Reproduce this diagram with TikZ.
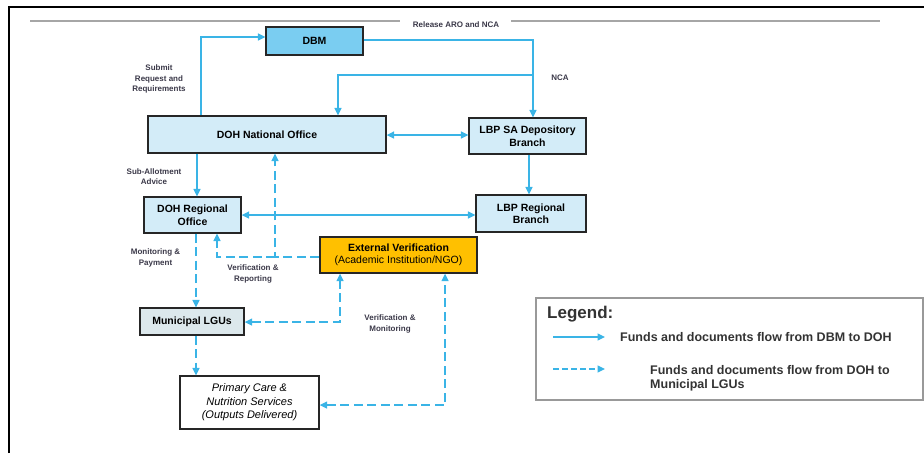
\documentclass[tikz,border=0pt]{standalone}
\usepackage{fontspec}
\setmainfont{Liberation Sans}
\usetikzlibrary{arrows.meta}
\definecolor{flowblue}{HTML}{3AB4E6}
\definecolor{dbmfill}{HTML}{7ACDF1}
\definecolor{lightfill}{HTML}{D3ECF8}
\definecolor{lgufill}{HTML}{DCE8EC}
\definecolor{extfill}{HTML}{FFC000}
\definecolor{labelgray}{HTML}{3A3848}
\definecolor{rulegray}{HTML}{A6A6A6}

\begin{document}
\begin{tikzpicture}[x=1pt, y=-1pt,
    box/.style={rectangle, draw=black!85, line width=1.3pt, fill=lightfill, inner sep=0pt, align=center, font=\fontsize{10.5}{12.5}\selectfont\bfseries},
    lbl/.style={font=\fontsize{8}{10.5}\selectfont\bfseries, text=labelgray, align=center, inner sep=0pt},
    tip/.style={Triangle[length=7.5pt,width=7pt]},
    flow/.style={-{Triangle[length=7.5pt,width=7pt]}, line width=1.4pt, flowblue},
    both/.style={{Triangle[length=7.5pt,width=7pt]}-{Triangle[length=7.5pt,width=7pt]}},
    dflow/.style={flow, dash pattern=on 9pt off 4.5pt},
    legtext/.style={font=\fontsize{12.5}{14}\selectfont\bfseries, text=black!80, align=left, anchor=west, inner sep=0pt}
  ]
  \useasboundingbox (0,0) rectangle (924,453);

  % Frame and top rule
  \draw[line width=1.5pt] (9,453) -- (9,7) -- (924,7);
  \draw[rulegray, line width=2pt] (30,21) -- (400,21);
  \draw[rulegray, line width=2pt] (511,21) -- (880,21);
  \node[lbl] (release) at (456,25) {Release ARO and NCA};

  % Offices
  \node[box, fill=dbmfill, minimum width=97pt, minimum height=28pt] (dbm) at (314.5,41) {DBM};
  \node[box, minimum width=238pt, minimum height=37pt] (natl) at (267,134.5) {DOH National Office};
  \node[box, minimum width=117pt, minimum height=36pt] (lbpsa) at (527.5,136) {LBP SA Depository\\Branch};
  \node[box, minimum width=110pt, minimum height=37pt] (lbpreg) at (531,213.5) {LBP Regional\\Branch};
  \node[box, minimum width=97pt, minimum height=36pt] (doreg) at (192.5,215) {DOH Regional\\Office};
  \node[box, fill=extfill, minimum width=157pt, minimum height=36pt] (ext) at (398.5,255) {External Verification\\\mdseries(Academic Institution/NGO)};
  \node[box, fill=lgufill, minimum width=104pt, minimum height=27pt] (lgu) at (192,321.5) {Municipal LGUs};
  \node[box, fill=white, minimum width=139pt, minimum height=53pt, font=\fontsize{11}{13.5}\selectfont\itshape] (pcare) at (249.5,402.5) {Primary Care \&\\Nutrition Services\\(Outputs Delivered)};

  % Labels
  \node[lbl] (nca) at (560,78) {NCA};
  \node[lbl] (submit) at (159,79) {Submit\\Request and\\Requirements};
  \node[lbl] (saa) at (154,176.5) {Sub-Allotment\\Advice};
  \node[lbl] (monpay) at (155.5,258) {Monitoring \&\\Payment};
  \node[lbl] (verrep) at (253,274) {Verification \&\\Reporting};
  \node[lbl] (vermon) at (390,324) {Verification \&\\Monitoring};

  % Solid flows
  \coordinate (split) at (533,75);
  \draw[flow] ([xshift=-66pt]natl.north) |- ([yshift=4pt]dbm.west);
  \draw[flow] ([yshift=1pt]dbm.east) -| ([xshift=5.5pt]lbpsa.north);
  \draw[flow] (split) -| ([xshift=71pt]natl.north);
  \draw[flow, both] ([yshift=-0.5pt]natl.east) -- ([yshift=-0.5pt]natl.east -| lbpsa.west);
  \draw[flow] ([xshift=1.5pt]lbpsa.south) -- ([xshift=-2pt]lbpreg.north);
  \draw[flow, both] (doreg.east) -- (doreg.east -| lbpreg.west);
  \draw[flow] ([xshift=4.5pt]doreg.north |- natl.south) -- ([xshift=4.5pt]doreg.north);

  % Dashed flows
  \coordinate (vrep) at (275,257);
  \draw[dflow] ([yshift=-2pt]ext.west) -| ([xshift=8pt]natl.south);
  \draw[dflow] (vrep) -| ([xshift=24.5pt]doreg.south);
  \draw[dflow] ([xshift=3.5pt]doreg.south) -- ([xshift=4pt]lgu.north);
  \draw[dflow, both] ([yshift=-0.5pt]lgu.east) -| ([xshift=-58.5pt]ext.south);
  \draw[dflow] ([xshift=4pt]lgu.south) -- ([xshift=-53.5pt]pcare.north);
  \draw[dflow, both] ([yshift=-2.5pt]pcare.east) -| ([xshift=46.5pt]ext.south);

  % Legend
  \node[draw=black!40, line width=1.3pt, minimum width=387pt, minimum height=102pt, inner sep=0pt] (legend) at (729.5,349) {};
  \node[legtext, font=\fontsize{17}{19}\selectfont\bfseries] (legtitle) at (547,314) {Legend:};
  \coordinate (ls1) at (553,337);
  \coordinate (le1) at (605,337);
  \coordinate (ls2) at (553,369);
  \coordinate (le2) at (605,369);
  \draw[flow, line width=1.2pt] (ls1) -- (le1);
  \draw[flow, line width=1.2pt, dash pattern=on 6pt off 3pt] (ls2) -- (le2);
  \node[legtext] (leg1) at (620,337) {Funds and documents flow from DBM to DOH};
  \node[legtext] (leg2) at (650,378) {Funds and documents flow from DOH to\\Municipal LGUs};
\end{tikzpicture}
\end{document}
